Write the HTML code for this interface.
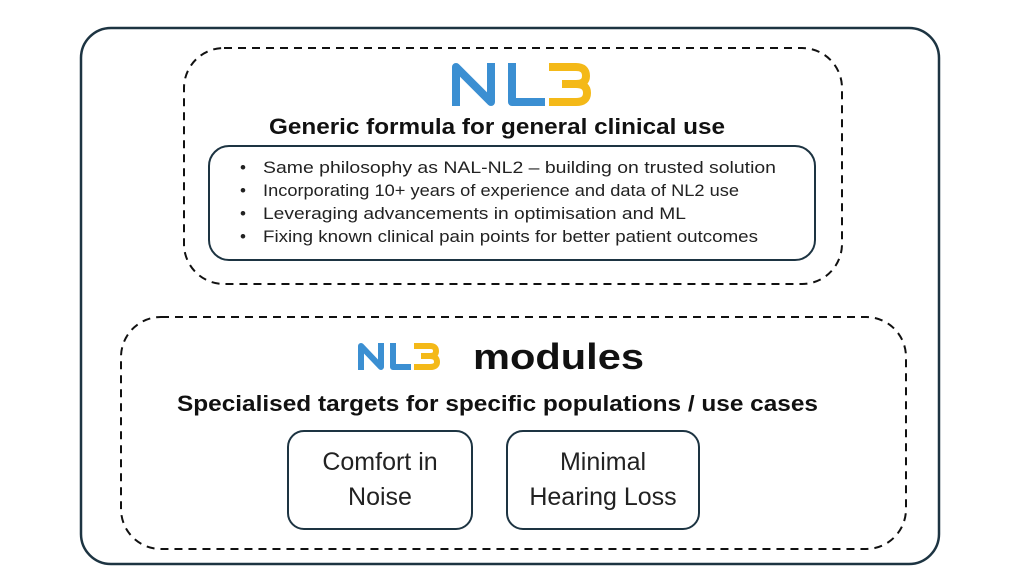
<!DOCTYPE html>
<html><head><meta charset="utf-8"><style>
html,body{margin:0;padding:0;background:#fff;width:1024px;height:576px;overflow:hidden}
svg{display:block}
text{font-family:"Liberation Sans",sans-serif}
</style></head><body>
<svg width="1024" height="576" viewBox="0 0 1024 576">
<rect x="81" y="28" width="858" height="536" rx="30" fill="none" stroke="#1d3442" stroke-width="2.5"/>
<rect x="184" y="48" width="658" height="236" rx="40" fill="none" stroke="#111" stroke-width="2" stroke-dasharray="8,6"/>
<rect x="209" y="146" width="606" height="114" rx="20" fill="none" stroke="#1d3442" stroke-width="2"/>
<rect x="121" y="317" width="785" height="232" rx="40" fill="none" stroke="#111" stroke-width="2" stroke-dasharray="8,6"/>
<rect x="288" y="431" width="184" height="98" rx="16" fill="none" stroke="#1d3442" stroke-width="2"/>
<rect x="507" y="431" width="192" height="98" rx="16" fill="none" stroke="#1d3442" stroke-width="2"/>

<g fill="none" stroke-width="8" stroke-linejoin="round" stroke-linecap="butt">
<path d="M456 106 V67 L491 102 V63" stroke="#3b8fd2"/>
<path d="M512 63 V102 H545" stroke="#3b8fd2"/>
<path d="M549 67 H576 Q586 67 586 76 Q586 84 576 84 H562 M576 84 Q587 84 587 93 Q587 102 576 102 H549" stroke="#f4b918"/>
</g>
<g fill="none" stroke-width="6" stroke-linejoin="round">
<path d="M361 370 V346 L381 367 V343" stroke="#3b8fd2"/>
<path d="M393 343 V367 H411" stroke="#3b8fd2"/>
<path d="M414 346 H430 Q436 346 436 351 Q436 356 430 356 H421 M430 356 Q437 356 437 362 Q437 367 430 367 H414" stroke="#f4b918"/>
</g>
<text x="473" y="369" font-size="36" font-weight="bold" fill="#111" textLength="171" lengthAdjust="spacingAndGlyphs">modules</text>

<text x="269" y="134" font-size="22" font-weight="bold" fill="#111" textLength="456" lengthAdjust="spacingAndGlyphs">Generic formula for general clinical use</text>
<g font-size="17" fill="#222">
<text x="240" y="173">•</text><text x="263" y="173" textLength="513" lengthAdjust="spacingAndGlyphs">Same philosophy as NAL-NL2 – building on trusted solution</text>
<text x="240" y="196">•</text><text x="263" y="196" textLength="476" lengthAdjust="spacingAndGlyphs">Incorporating 10+ years of experience and data of NL2 use</text>
<text x="240" y="219">•</text><text x="263" y="219" textLength="423" lengthAdjust="spacingAndGlyphs">Leveraging advancements in optimisation and ML</text>
<text x="240" y="242">•</text><text x="263" y="242" textLength="495" lengthAdjust="spacingAndGlyphs">Fixing known clinical pain points for better patient outcomes</text>
</g>
<text x="177" y="411" font-size="22" font-weight="bold" fill="#111" textLength="641" lengthAdjust="spacingAndGlyphs">Specialised targets for specific populations / use cases</text>
<g font-size="25" fill="#222" text-anchor="middle">
<text x="380" y="470">Comfort in</text>
<text x="380" y="505">Noise</text>
<text x="603" y="470">Minimal</text>
<text x="603" y="505">Hearing Loss</text>
</g>
</svg>
</body></html>
